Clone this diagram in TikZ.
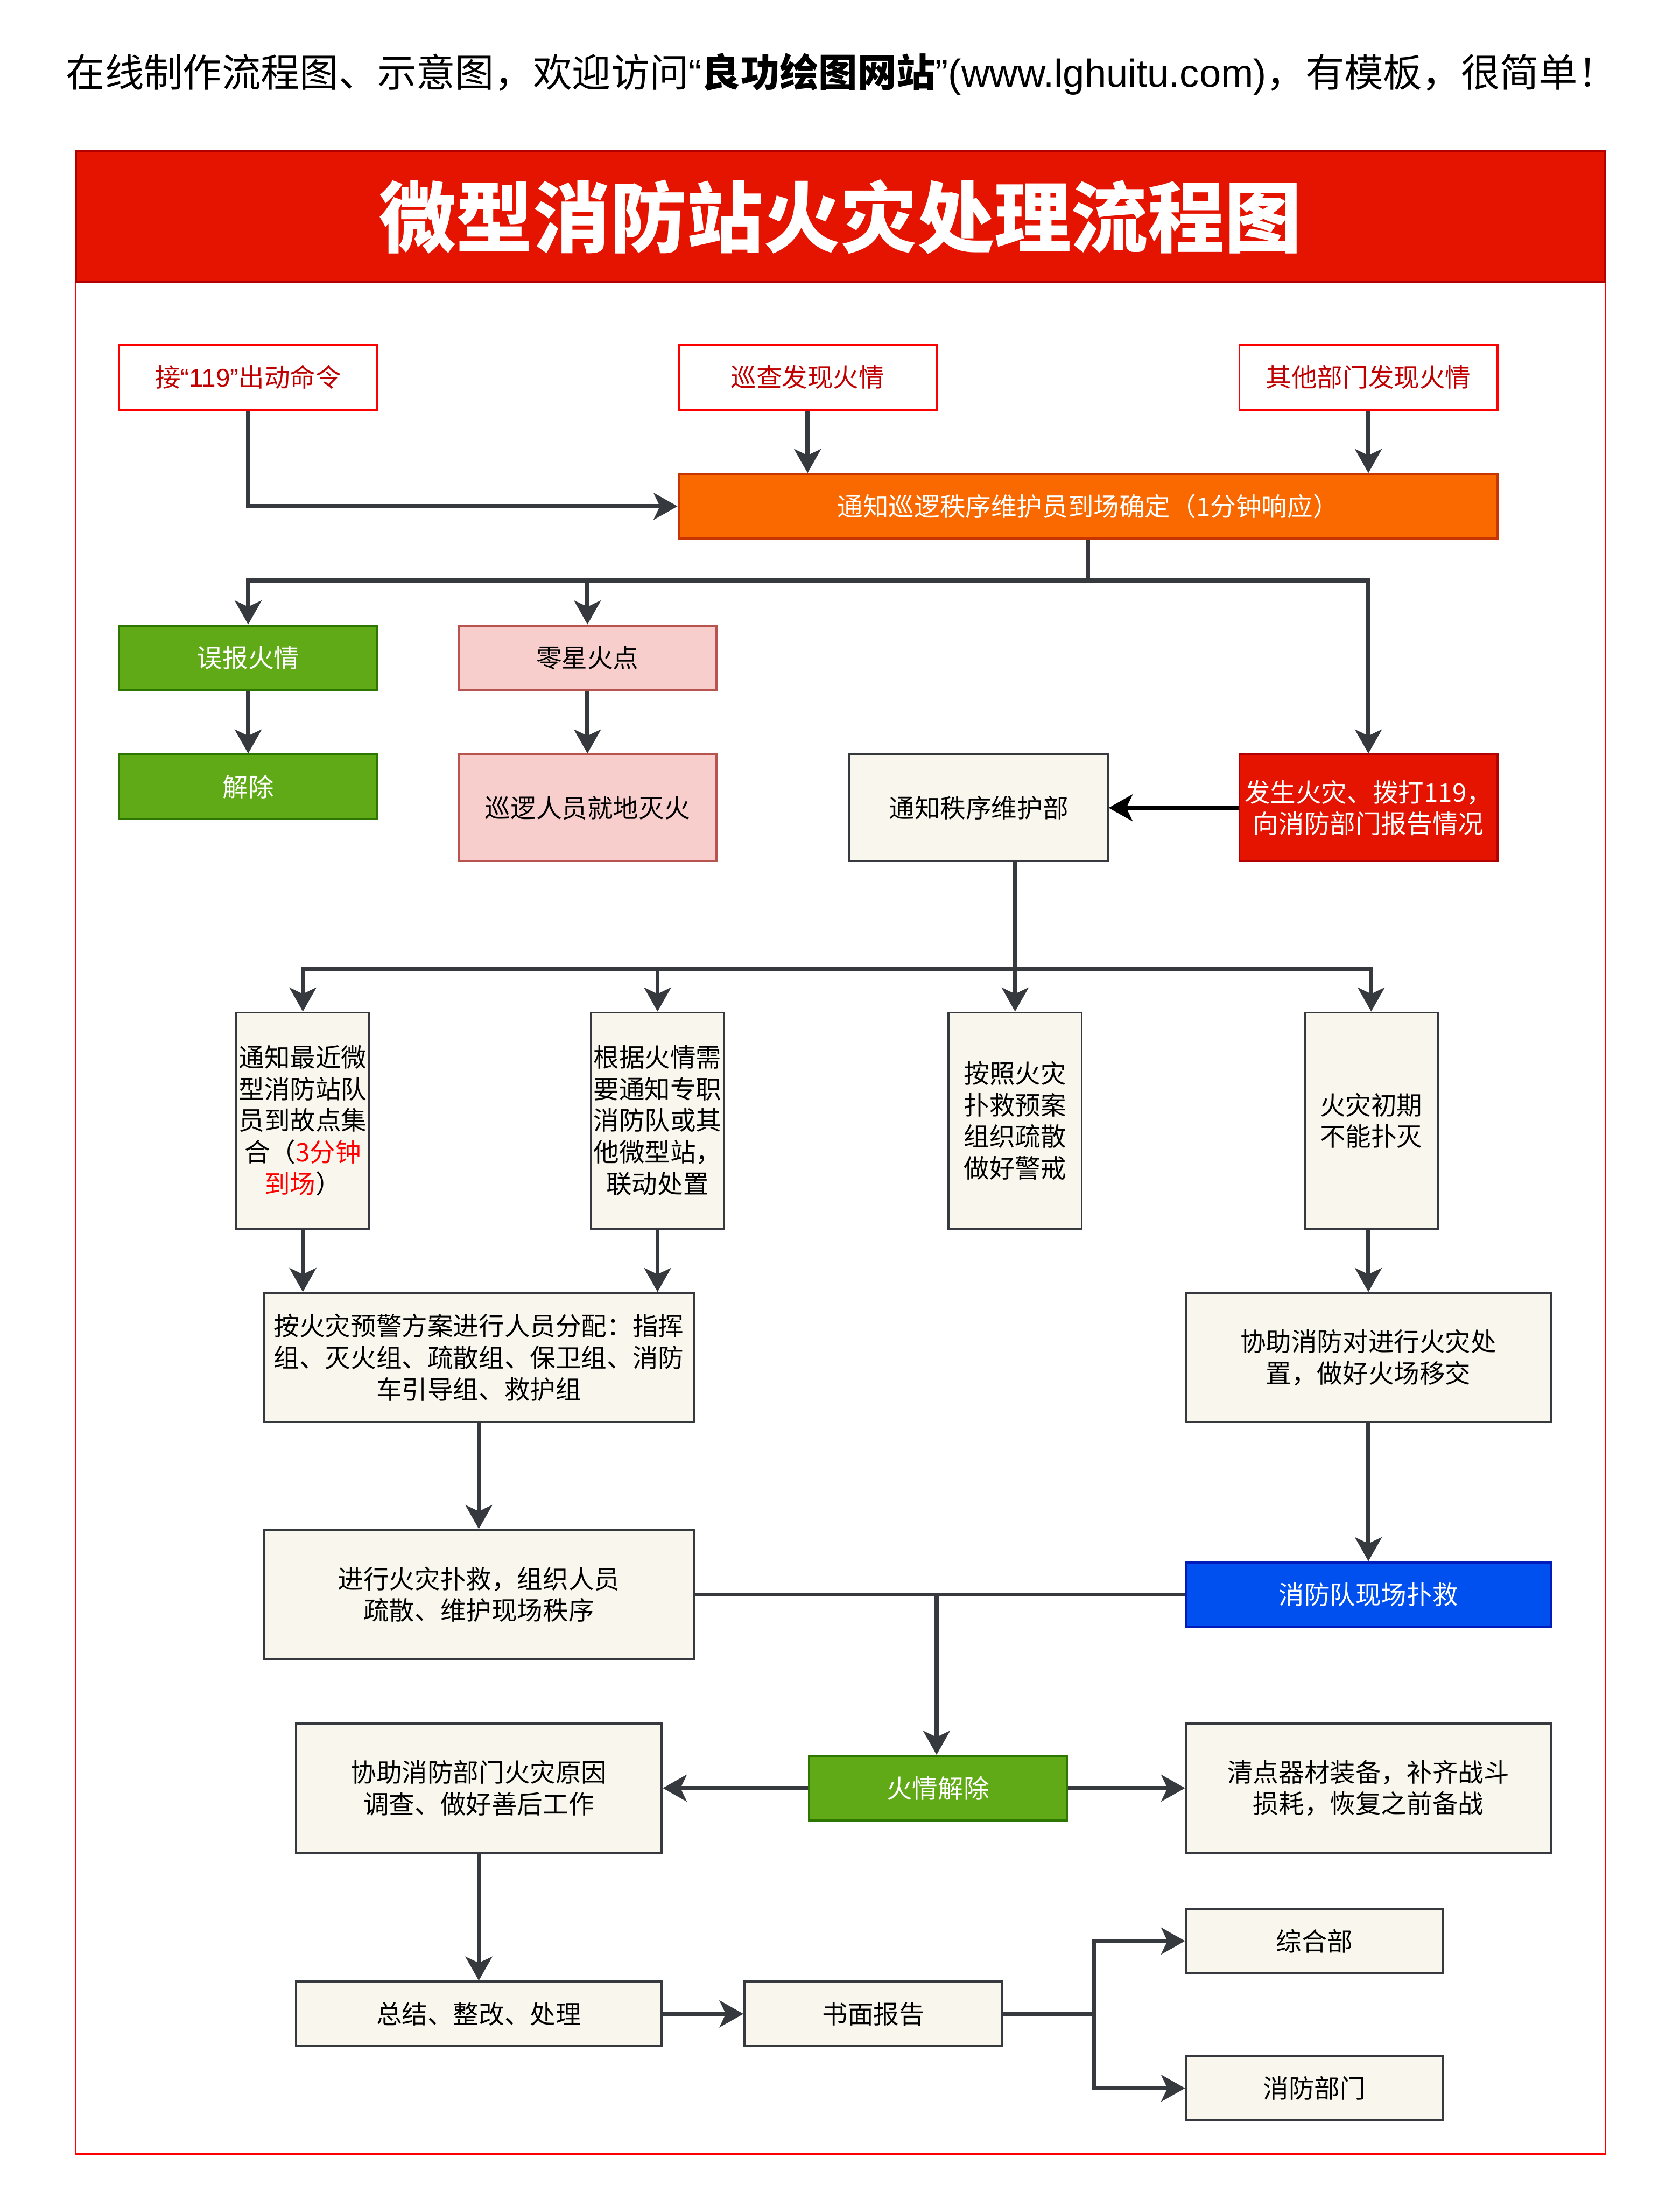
\documentclass[tikz,border=0pt]{standalone}
\usepackage{fontspec}
\setmainfont{Noto Sans CJK SC}
\newfontfamily\westfont{Liberation Sans}
\usepackage{tikz}
\usetikzlibrary{arrows.meta}

\definecolor{edgegray}{HTML}{36393D}
\definecolor{cream}{HTML}{F9F7ED}
\definecolor{firered}{HTML}{E51400}
\definecolor{darkred}{HTML}{B20000}
\definecolor{textred}{HTML}{C00000}
\definecolor{orangefill}{HTML}{FA6800}
\definecolor{orangeline}{HTML}{C73500}
\definecolor{greenfill}{HTML}{60A917}
\definecolor{greenline}{HTML}{2D7600}
\definecolor{pinkfill}{HTML}{F8CECC}
\definecolor{pinkline}{HTML}{B85450}
\definecolor{bluefill}{HTML}{0050EF}
\definecolor{blueline}{HTML}{001DBC}

\newcommand\flowfont{\fontsize{26}{32}\selectfont}
\newcommand\bannerfont{\fontsize{78}{90}\selectfont\bfseries}
\newcommand\noticefont{\fontsize{39.5}{46}\selectfont}

\begin{document}
\begin{tikzpicture}[x=0.5mm,y=-0.5mm]
	
	\tikzset{box/.style = {shape=rectangle,draw=edgegray,fill=cream,line width=0.75mm,inner sep=0pt,align=center,font=\flowfont,minimum width=92mm,minimum height=23mm}}
	\tikzset{source/.style = {box,draw=red,fill=white,text=textred}}
	\tikzset{orangebox/.style = {box,draw=orangeline,fill=orangefill,text=white}}
	\tikzset{greenbox/.style = {box,draw=greenline,fill=greenfill,text=white}}
	\tikzset{pinkbox/.style = {box,draw=pinkline,fill=pinkfill}}
	\tikzset{redbox/.style = {box,draw=darkred,fill=firered,text=white}}
	\tikzset{bluebox/.style = {box,draw=blueline,fill=bluefill,text=white}}
	\tikzset{tallbox/.style = {box,minimum width=47.5mm,minimum height=77mm}}
	\tikzset{line/.style = {draw=edgegray,line width=1.5mm}}
	\tikzset{edge/.style = {line,-{Stealth[length=8.5mm,width=9.5mm,inset=2.2mm]}}}
	
	\useasboundingbox (0,0) rectangle (1198,1568);
	
	\node[font=\noticefont,inner sep=0pt,anchor=west] (notice) at (47,53) {在线制作流程图、示意图，欢迎访问{\westfont“}\textbf{良功绘图网站}{\westfont”(www.lghuitu.com)}，有模板，很简单！};
	\draw[red,line width=0.6mm] (54,108) rectangle (1145,1536);
	\node[redbox,minimum width=545.5mm,minimum height=46.5mm,font=\bannerfont] (banner) at (599.5,154.5) {微型消防站火灾处理流程图};
	
	\node[source] (call) at (177,269) {接{\westfont“119”}出动命令};
	\node[source] (patrol) at (576,269) {巡查发现火情};
	\node[source] (other) at (976,269) {其他部门发现火情};
	\node[orangebox,minimum width=292mm] (notify) at (776,361) {通知巡逻秩序维护员到场确定（1分钟响应）};
	
	\node[greenbox] (false) at (177,469) {误报火情};
	\node[greenbox] (release) at (177,561) {解除};
	\node[pinkbox] (spark) at (419,469) {零星火点};
	\node[pinkbox,minimum height=38mm] (putout) at (419,576) {巡逻人员就地灭火};
	\node[box,minimum height=38mm] (order) at (698,576) {通知秩序维护部};
	\node[redbox,minimum height=38mm] (fire) at (976,576) {发生火灾、拨打119，\\向消防部门报告情况};
	
	\node[tallbox] (nearest) at (216,799) {通知最近微\\型消防站队\\员到故点集\\合（\textcolor{red}{3分钟}\\\textcolor{red}{到场}）};
	\node[tallbox] (linkage) at (469,799) {根据火情需\\要通知专职\\消防队或其\\他微型站，\\联动处置};
	\node[tallbox] (evacuate) at (724,799) {按照火灾\\扑救预案\\组织疏散\\做好警戒};
	\node[tallbox] (early) at (978,799) {火灾初期\\不能扑灭};
	
	\node[box,minimum width=153.5mm,minimum height=46mm] (assign) at (341.5,968) {按火灾预警方案进行人员分配：指挥\\组、灭火组、疏散组、保卫组、消防\\车引导组、救护组};
	\node[box,minimum width=130mm,minimum height=46mm] (assist) at (976,968) {协助消防对进行火灾处\\置，做好火场移交};
	\node[box,minimum width=153.5mm,minimum height=46mm] (fight) at (341.5,1137) {进行火灾扑救，组织人员\\疏散、维护现场秩序};
	\node[bluebox,minimum width=130mm] (brigade) at (976,1137) {消防队现场扑救};
	
	\node[box,minimum width=130.5mm,minimum height=46mm] (cause) at (341.5,1275) {协助消防部门火灾原因\\调查、做好善后工作};
	\node[greenbox] (clear) at (669,1275) {火情解除};
	\node[box,minimum width=130mm,minimum height=46mm] (restore) at (976,1275) {清点器材装备，补齐战斗\\损耗，恢复之前备战};
	
	\node[box,minimum width=130.5mm] (summary) at (341.5,1436) {总结、整改、处理};
	\node[box] (report) at (623,1436) {书面报告};
	\node[box,minimum width=91.5mm] (general) at (937.5,1384) {综合部};
	\node[box,minimum width=91.5mm] (dept) at (937.5,1489) {消防部门};
	
	\coordinate (split1) at (776,414);
	\coordinate (split2) at (724,691);
	\coordinate (split3) at (668,1137);
	\coordinate (split4) at (780,1436);
	
	\draw[edge] (call) |- (notify);
	\draw[edge] (patrol) to (patrol |- notify.north);
	\draw[edge] (other) to (other |- notify.north);
	
	\draw[line] (notify) to (split1);
	\draw[edge] (split1) -| (false);
	\draw[edge] (split1) -| (spark);
	\draw[edge] (split1) -| (fire);
	\draw[edge] (false) to (release);
	\draw[edge] (spark) to (putout);
	\draw[edge,draw=black] (fire) to (order);
	
	\draw[line] (order.south -| split2) to (split2);
	\draw[edge] (split2) -| (nearest);
	\draw[edge] (split2) -| (linkage);
	\draw[edge] (split2) -| (evacuate);
	\draw[edge] (split2) -| (early);
	
	\draw[edge] (nearest) to (nearest |- assign.north);
	\draw[edge] (linkage) to (linkage |- assign.north);
	\draw[edge] (early.south -| assist) to (assist);
	\draw[edge] (assign) to (fight);
	\draw[edge] (assist) to (brigade);
	
	\draw[line] (fight) to (brigade);
	\draw[edge] (split3) to (split3 |- clear.north);
	\draw[edge] (clear) to (cause);
	\draw[edge] (clear) to (restore);
	
	\draw[edge] (cause) to (summary);
	\draw[edge] (summary) to (report);
	\draw[line] (report) to (split4);
	\draw[edge] (split4) |- (general);
	\draw[edge] (split4) |- (dept);
	%\draw[edge] (report) to (general);
\end{tikzpicture}
\end{document}
